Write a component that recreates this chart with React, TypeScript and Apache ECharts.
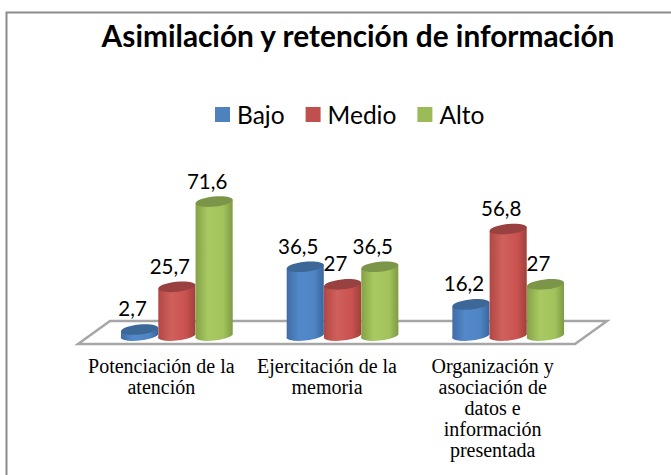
import React, { useEffect, useRef } from "react";
import * as echarts from "echarts";

const titleText = "Asimilación y retención de información";
const categories = [
  "Potenciación de la\natención",
  "Ejercitación de la\nmemoria",
  "Organización y\nasociación de\ndatos e\ninformación\npresentada",
];
const seriesNames = ["Bajo", "Medio", "Alto"];
const bajo = [2.7, 36.5, 16.2];
const medio = [25.7, 27, 56.8];
const alto = [71.6, 36.5, 27];
const seriesValues = [bajo, medio, alto];
const legendColors = ["#4f81bd", "#c0504d", "#9bbb59"];
const topColors = ["#3c6796", "#994040", "#7b9648"];
const bodyStops = [
  ["#3f6ca6", "#5389cb", "#4f84c4", "#3a659c"],
  ["#b04744", "#d0605c", "#c9524f", "#a03f3c"],
  ["#84a047", "#a9ca62", "#a2c35c", "#7f9a44"],
];

const TILT = (6 * Math.PI) / 180;

function makeCylinder(seriesIndex: number) {
  return (params: any, api: any) => {
    const cat = api.value(0);
    const val = api.value(1);
    const band = api.size([1, 0])[0];
    const w = band * 0.225;
    const rx = w / 2;
    const ry = 5;
    const [cx0, yTop] = api.coord([cat, val]);
    const [, yBase] = api.coord([cat, 0]);
    const cx = cx0 + (seriesIndex - 1) * w;
    const dx = rx * Math.cos(TILT);
    const dy = rx * Math.sin(TILT);
    const deg = (-TILT * 180) / Math.PI;
    const d =
      `M${cx - dx} ${yTop + dy}L${cx - dx} ${yBase + dy}` +
      `A${rx} ${ry} ${deg} 0 0 ${cx + dx} ${yBase - dy}` +
      `L${cx + dx} ${yTop - dy}Z`;
    const stops = bodyStops[seriesIndex];
    return {
      type: "group",
      children: [
        {
          type: "path",
          shape: { pathData: d },
          style: {
            fill: new echarts.graphic.LinearGradient(0, 0, 1, 0, [
              { offset: 0, color: stops[0] },
              { offset: 0.35, color: stops[1] },
              { offset: 0.75, color: stops[2] },
              { offset: 1, color: stops[3] },
            ]),
          },
        },
        {
          type: "ellipse",
          shape: { cx: 0, cy: 0, rx, ry },
          x: cx,
          y: yTop,
          rotation: TILT,
          style: { fill: topColors[seriesIndex] },
        },
        {
          type: "text",
          x: cx - 7,
          y: yTop - 21,
          style: {
            text: String(val).replace(".", ","),
            fill: "#000",
            font: '20.5px "Lato"',
            textAlign: "center",
            textVerticalAlign: "middle",
          },
        },
      ],
    };
  };
}

export default function App() {
  const ref = useRef<HTMLDivElement>(null);
  useEffect(() => {
    const chart = echarts.init(ref.current!, undefined, { renderer: "svg" });
    chart.setOption({
      animation: false,
      backgroundColor: "#fff",
      title: {
        text: titleText,
        left: 353,
        top: 15,
        textAlign: "center",
        textStyle: {
          fontFamily: "Lato",
          fontWeight: "bold",
          fontSize: 29.8,
          color: "#000",
        },
      },
      legend: {
        data: seriesNames,
        left: 210,
        top: 97,
        icon: "rect",
        itemWidth: 15,
        itemHeight: 15,
        itemGap: 21,
        textStyle: {
          fontFamily: "Lato",
          fontSize: 24.5,
          color: "#000",
          padding: [0, 0, 0, 2],
        },
      },
      grid: { left: 94, right: 80, top: 186, bottom: 140.5 },
      xAxis: {
        type: "category",
        data: categories,
        axisLine: { show: false },
        axisTick: { show: false },
        axisLabel: {
          interval: 0,
          margin: 21,
          padding: [0, 31, 0, 0],
          fontFamily: "Liberation Serif",
          fontSize: 20,
          lineHeight: 21,
          color: "#000",
        },
      },
      yAxis: { type: "value", min: 0, max: 80, show: false },
      graphic: [
        {
          type: "polyline",
          shape: { points: [[6.5, 475], [6.5, 12.5], [671, 12.5]] },
          style: { stroke: "#8c8c8c", lineWidth: 2, fill: "none" },
          silent: true,
        },
        {
          type: "polygon",
          shape: { points: [[78, 344], [110, 321], [607, 321], [575, 344]] },
          style: { stroke: "#a6a6a6", lineWidth: 2.5, fill: "#fff" },
          silent: true,
        },
      ],
      series: seriesNames.map((name, i) => ({
        name,
        type: "custom",
        coordinateSystem: "cartesian2d",
        itemStyle: { color: legendColors[i] },
        renderItem: makeCylinder(i),
        encode: { x: 0, y: 1 },
        data: seriesValues[i].map((v, c) => [c, v]),
      })),
    });
    return () => chart.dispose();
  }, []);
  return (
    <div
      ref={ref}
      style={{ position: "fixed", left: 0, top: 0, width: 671, height: 475 }}
    />
  );
}
